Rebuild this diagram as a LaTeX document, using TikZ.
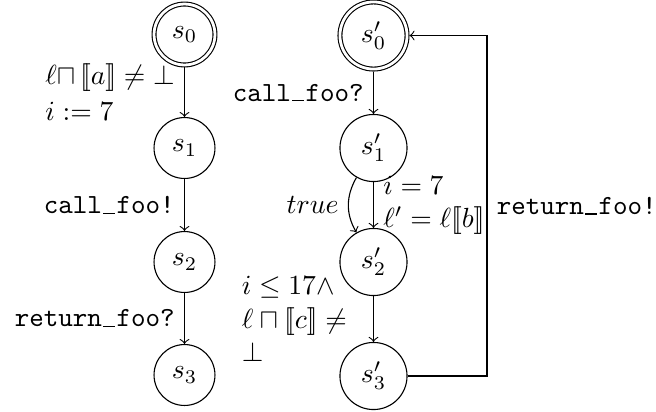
\documentclass[tikz,border=0pt]{standalone}
\newcommand\usc{\makebox[.525em][c]{\rule[-0.1pt]{.42em}{.45pt}}}
\begin{document}
\begin{tikzpicture}[x=0.3611pt,y=-0.3611pt,
  state/.style={circle,draw,minimum size=22pt,inner sep=3.8pt},
  initstate/.style={state,double,double distance=1pt,outer sep=0.9pt},
  tr/.style={->}]
\useasboundingbox (0,0) rectangle (656,411);
\node[initstate] (s0) at (184.5,34.5) {$s_0$};
\node[state] (s1) at (184.5,148) {$s_1$};
\node[state] (s2) at (184.5,262) {$s_2$};
\node[state] (s3) at (184.5,375) {$s_3$};
\node[initstate] (t0) at (373.5,35.5) {$s'_0$};
\node[state] (t1) at (373.5,148) {$s'_1$};
\node[state] (t2) at (373.5,262) {$s'_2$};
\node[state] (t3) at (373.5,376) {$s'_3$};
\coordinate (rx) at (487,0);

\draw[tr] (s0) -- node[midway,left,align=left] (l0) {$\ell{\sqcap}\,[\![a]\!]\neq\bot$\\[1.2pt]$i:=7$} (s1);
\draw[tr] (s1) -- node[midway,left] (l1) {\texttt{call\usc foo!}} (s2);
\draw[tr] (s2) -- node[midway,left] (l2) {\texttt{return\usc foo?}} (s3);

\draw[tr] (t0) -- node[midway,left] (m0) {\texttt{call\usc foo?}} (t1);
\draw[tr] (t1) to[bend right=30] node[midway,left] (m1) {$true$} (t2);
\draw[tr] (t1) -- node[midway,right,align=left] (m2) {$i=7$\\$\ell'=\ell[\![b]\!]$} (t2);
\draw[tr] (t2) -- node[midway,left,text width=44pt,align=left] (m3) {$i\leq 17\wedge$\\$\ell\sqcap[\![c]\!]\neq$\\$\bot$} (t3);
\draw[tr] (t3.east) -- (t3.east -| rx) -- node[midway,right] (m4) {\texttt{return\usc foo!}} (t0.east -| rx) -- (t0.east);
\end{tikzpicture}
\end{document}
